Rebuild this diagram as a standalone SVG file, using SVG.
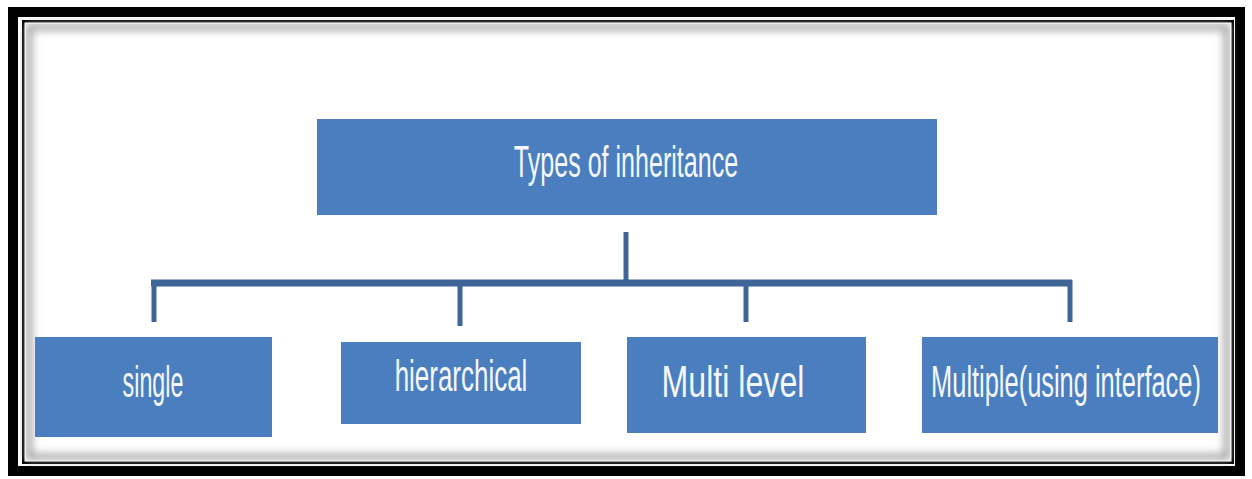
<svg xmlns="http://www.w3.org/2000/svg" width="1252" height="479" viewBox="0 0 1252 479">
<defs>
<filter id="inner" x="-5%" y="-5%" width="110%" height="110%">
<feGaussianBlur stdDeviation="4"/>
</filter>
<style>
.box{fill:#4a7ebf;}
.lbl{font-family:"Liberation Sans",Arial,sans-serif;font-size:44px;fill:#f4f8fc;text-anchor:middle;}
.conn{stroke:#3f6496;fill:none;stroke-linecap:butt;}
</style>
</defs>
<rect width="1252" height="479" fill="#ffffff"/>
<g id="frame">
<rect x="13" y="12" width="1227" height="459" fill="none" stroke="#000" stroke-width="10"/>
<rect x="23.5" y="21.5" width="1209" height="441" fill="none" stroke="#000" stroke-width="3"/>
<rect x="29" y="27" width="1198" height="430" fill="none" stroke="#9a9a9a" stroke-width="6" filter="url(#inner)"/>
<rect x="25" y="23" width="1206" height="438" fill="none" stroke="#fff" stroke-width="1"/>
</g>
<g id="connectors">
<line class="conn" x1="626" y1="232" x2="626" y2="283" stroke-width="5"/>
<line class="conn" x1="151" y1="283" x2="1072" y2="283" stroke-width="7"/>
<line class="conn" x1="154" y1="280" x2="154" y2="322" stroke-width="5"/>
<line class="conn" x1="460" y1="280" x2="460" y2="326" stroke-width="5"/>
<line class="conn" x1="746" y1="280" x2="746" y2="322" stroke-width="5"/>
<line class="conn" x1="1070" y1="280" x2="1070" y2="322" stroke-width="5"/>
</g>
<g id="root">
<rect class="box" x="317" y="119" width="620" height="96"/>
<text class="lbl" transform="translate(626 177) scale(0.57 1)">Types of inheritance</text>
</g>
<g id="single">
<rect class="box" x="35" y="337" width="237" height="100"/>
<text class="lbl" transform="translate(153 397) scale(0.53 1)">single</text>
</g>
<g id="hierarchical">
<rect class="box" x="341" y="342" width="240" height="82"/>
<text class="lbl" transform="translate(461 391) scale(0.59 1)">hierarchical</text>
</g>
<g id="multilevel">
<rect class="box" x="627" y="337" width="239" height="96"/>
<text class="lbl" transform="translate(733 397) scale(0.73 1)">Multi level</text>
</g>
<g id="multiple">
<rect class="box" x="922" y="337" width="296" height="96"/>
<text class="lbl" transform="translate(1066 397) scale(0.578 1)">Multiple(using interface)</text>
</g>
</svg>
